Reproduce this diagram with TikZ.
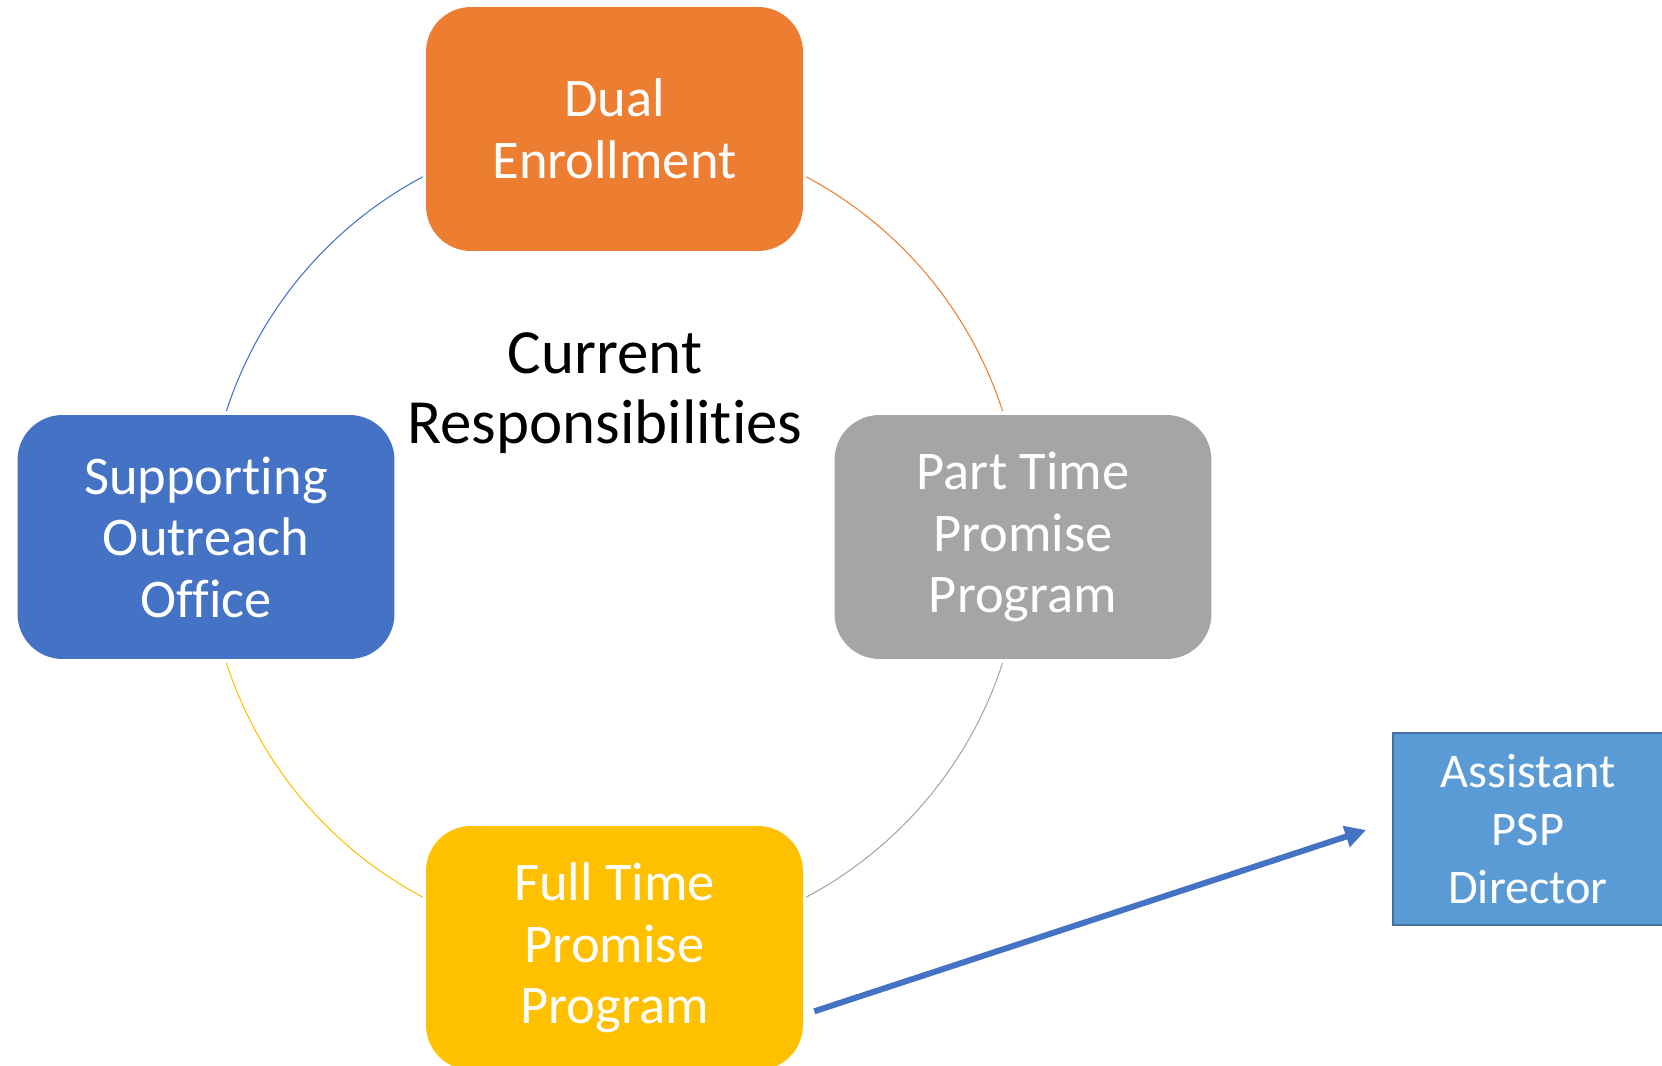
\documentclass[tikz,border=0pt]{standalone}
\usepackage{fontspec}
\setmainfont{Carlito}[RawFeature={-liga}]
\usepackage{xcolor}
\usetikzlibrary{calc}
\usetikzlibrary{arrows.meta}
\definecolor{dualorange}{HTML}{ED7D31}
\definecolor{outreachblue}{HTML}{4472C4}
\definecolor{partgray}{HTML}{A5A5A5}
\definecolor{fullyellow}{HTML}{FFC000}
\definecolor{pspblue}{HTML}{5B9BD5}
\definecolor{pspborder}{HTML}{41719C}
\begin{document}
\begin{tikzpicture}[x=0.02cm,y=0.02cm,
    taskbox/.style={rounded corners=0.9cm, minimum width=7.54cm, minimum height=4.88cm, inner sep=0pt, align=center, text=white, font=\fontsize{31}{35}\selectfont},
    ringarc/.style={line width=0.6pt}]
    %FRAME
    \useasboundingbox (0,0) rectangle (1662,1065);
    %KOTAK
    \node[taskbox, fill=dualorange] (dual) at (614.5,936) {Dual\\Enrollment};
    \node[taskbox, fill=outreachblue] (outreach) at (206,528) {Supporting\\Outreach\\Office};
    \node[taskbox, fill=partgray] (parttime) at (1023,528) {Part Time\\Promise\\Program};
    \node[taskbox, fill=fullyellow] (fulltime) at (614.5,117) {Full Time\\Promise\\Program};
    %TENGAH
    \node[align=center, font=\fontsize{35.8}{40}\selectfont] (current) at (605,672) {Current\\Responsibilities};
    %LINGKARAN
    \coordinate (ring) at (614.5,528);
    \draw[ringarc, dualorange] (ring) ++(62:408) arc[start angle=62, end angle=18, radius=408];
    \draw[ringarc, partgray] (ring) ++(-18:408) arc[start angle=-18, end angle=-62, radius=408];
    \draw[ringarc, fullyellow] (ring) ++(-118:408) arc[start angle=-118, end angle=-162, radius=408];
    \draw[ringarc, outreachblue] (ring) ++(162:408) arc[start angle=162, end angle=118, radius=408];
    %ASISTEN
    \node[draw=pspborder, line width=1pt, fill=pspblue, minimum width=5.4cm, minimum height=3.84cm, inner sep=0pt, align=center, text=white, font=\fontsize{27.5}{33}\selectfont] (psp) at (1528,236) {Assistant\\PSP\\Director};
    %PANAH
    \draw[outreachblue, line width=3.4pt, -{Triangle[length=0.42cm,width=0.42cm]}] ($(fulltime.south east)+(11,59)$) -- ($(psp.west)+(-26,-1)$);
\end{tikzpicture}
\end{document}
